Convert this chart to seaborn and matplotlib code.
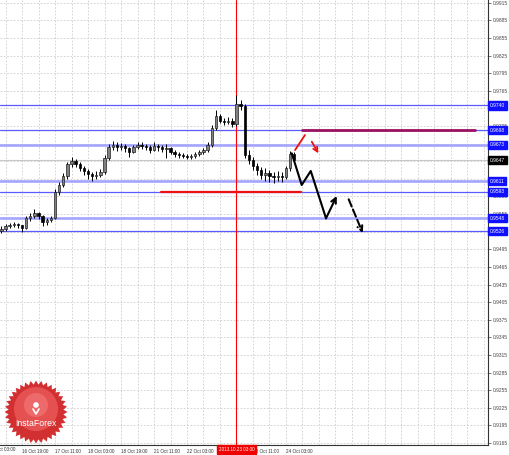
import numpy as np
import pandas as pd
import matplotlib
matplotlib.use("Agg")
import matplotlib.pyplot as plt
import seaborn as sns
from matplotlib.patches import Polygon, Circle

# barre a 2 ore, asse x = ore di contrattazione dal 16 Oct 03:00
bar_t = np.arange(6, 150, 2)
first_open = 0.9526
close = [0.9530, 0.9535, 0.9536, 0.9538, 0.9536, 0.9531, 0.9548, 0.9552, 0.9557, 0.9552,
         0.9541, 0.9545, 0.9548, 0.9593, 0.9605, 0.9620, 0.9640, 0.9645, 0.9640, 0.9633,
         0.9628, 0.9623, 0.9620, 0.9622, 0.9627, 0.9651, 0.9669, 0.9673, 0.9669, 0.9671,
         0.9668, 0.9661, 0.9669, 0.9673, 0.9671, 0.9669, 0.9664, 0.9671, 0.9669, 0.9666,
         0.9668, 0.9661, 0.9657, 0.9656, 0.9654, 0.9652, 0.9654, 0.9657, 0.9661, 0.9664,
         0.9673, 0.9702, 0.9722, 0.9714, 0.9712, 0.9714, 0.9708, 0.9743, 0.9739, 0.9656,
         0.9647, 0.9637, 0.9630, 0.9622, 0.9625, 0.9620, 0.9618, 0.9620, 0.9618, 0.9633,
         0.9657, 0.9647]
high = [0.9534, 0.9538, 0.9540, 0.9541, 0.9540, 0.9537, 0.9552, 0.9556, 0.9563, 0.9559,
        0.9554, 0.9549, 0.9552, 0.9597, 0.9610, 0.9625, 0.9644, 0.9652, 0.9648, 0.9643,
        0.9637, 0.9632, 0.9627, 0.9628, 0.9632, 0.9655, 0.9674, 0.9679, 0.9677, 0.9676,
        0.9675, 0.9670, 0.9673, 0.9678, 0.9677, 0.9675, 0.9672, 0.9678, 0.9675, 0.9673,
        0.9674, 0.9670, 0.9664, 0.9661, 0.9659, 0.9657, 0.9658, 0.9661, 0.9665, 0.9668,
        0.9677, 0.9707, 0.9733, 0.9726, 0.9719, 0.9720, 0.9718, 0.9758, 0.9750, 0.9742,
        0.9664, 0.9652, 0.9642, 0.9636, 0.9633, 0.9630, 0.9626, 0.9628, 0.9626, 0.9637,
        0.9662, 0.9660]
low = [0.9522, 0.9527, 0.9531, 0.9533, 0.9532, 0.9524, 0.9529, 0.9544, 0.9549, 0.9547,
       0.9535, 0.9537, 0.9541, 0.9546, 0.9588, 0.9601, 0.9615, 0.9636, 0.9635, 0.9628,
       0.9622, 0.9615, 0.9612, 0.9614, 0.9618, 0.9624, 0.9647, 0.9665, 0.9663, 0.9664,
       0.9660, 0.9652, 0.9659, 0.9666, 0.9666, 0.9664, 0.9659, 0.9662, 0.9663, 0.9660,
       0.9651, 0.9657, 0.9653, 0.9651, 0.9650, 0.9648, 0.9649, 0.9651, 0.9654, 0.9658,
       0.9661, 0.9670, 0.9698, 0.9710, 0.9706, 0.9708, 0.9703, 0.9705, 0.9733, 0.9650,
       0.9640, 0.9630, 0.9622, 0.9614, 0.9612, 0.9610, 0.9608, 0.9612, 0.9610, 0.9614,
       0.9629, 0.9643]

# livelli orizzontali (blu) e prezzo attuale
levels = [0.9740, 0.9698, 0.9673, 0.9611, 0.9593, 0.9548, 0.9526]
level_thick = [False, False, True, True, False, True, False]
current_price = 0.9647

# etichette asse tempo
time_ticks = [0, 16, 32, 48, 64, 80, 96, 112, 128, 144]
time_labels = ["16 Oct 03:00", "16 Oct 19:00", "17 Oct 11:00", "18 Oct 03:00", "18 Oct 19:00",
               "21 Oct 11:00", "22 Oct 03:00", "22 Oct 19:00", "23 Oct 11:00", "24 Oct 03:00"]
vline_t = 120
vline_label = "2013.10.23 03:00"
price_ticks = [round(0.9165 + 0.0030 * i, 4) for i in range(26)]

# disegni di previsione
black_path_t = [146.8, 151.6, 156.0, 163.4, 168.6]
black_path_p = [0.96585, 0.96045, 0.96284, 0.95478, 0.95858]
black_dash_t = [174.4, 181.2]
black_dash_p = [0.95801, 0.95228]
red_up_t = [148.4, 153.2]
red_up_p = [0.96641, 0.96897]
red_down_t = [156.5, 159.7]
red_down_p = [0.96783, 0.96585]
red_support_t = [83.4, 151.3]
red_support_p = [0.9593, 0.9593]
resist_t = [151.8, 235.6]
resist_p = [0.9698, 0.9698]

df = pd.DataFrame({"t": bar_t, "close": close, "high": high, "low": low})
df["open"] = df["close"].shift(1).fillna(first_open)

sns.set_style("white")
plt.rcParams["font.family"] = ["Liberation Sans", "DejaVu Sans"]
fig = plt.figure(figsize=(5.1, 4.55), dpi=100)
ax = fig.add_axes([0, 10 / 455, 488 / 510, 445 / 455])
ax.set_xlim(5.333, 241.94)
ax.set_ylim(0.91616, 0.99197)

FSX = 3.3
FSY = 3.5

# griglia tratteggiata
for t in range(8, 248, 8):
    ax.axvline(t, color="#cccccc", lw=0.6, ls=(0, (2, 2)), zorder=0)
for p in price_ticks:
    ax.axhline(p, color="#cccccc", lw=0.6, ls=(0, (2, 2)), zorder=0)

# livelli
for lv, thick in zip(levels, level_thick):
    if thick:
        ax.axhline(lv, color="#a4a4ff", lw=1.9, zorder=1)
    else:
        ax.axhline(lv, color="#5a5aff", lw=0.9, zorder=1)
ax.axhline(current_price, color="#c8c8c8", lw=0.8, zorder=1)
ax.axvline(vline_t, color="red", lw=0.8, zorder=1)

# candele
ax.vlines(df["t"], df["low"], df["high"], color="black", lw=0.7, zorder=3)
bull = df["close"] >= df["open"]
body_low = df[["open", "close"]].min(axis=1)
body_h = (df["close"] - df["open"]).abs().clip(lower=0.00006)
ax.bar(df["t"][bull], body_h[bull], bottom=body_low[bull], width=1.1,
       color="#808080", edgecolor="#202020", lw=0.5, zorder=4)
ax.bar(df["t"][~bull], body_h[~bull], bottom=body_low[~bull], width=1.1,
       color="black", edgecolor="black", lw=0.5, zorder=4)

# disegni
sns.lineplot(x=red_support_t, y=red_support_p, sort=False, color="#ee1111", lw=1.6, ax=ax, zorder=5)
sns.lineplot(x=resist_t, y=resist_p, sort=False, color="#9c1060", lw=2.0, ax=ax, zorder=5)
sns.lineplot(x=black_path_t[:-1], y=black_path_p[:-1], sort=False, color="black", lw=1.5, ax=ax, zorder=6)
ax.annotate("", xy=(black_path_t[-1], black_path_p[-1]), xytext=(black_path_t[-2], black_path_p[-2]),
            arrowprops=dict(arrowstyle="->", color="black", lw=1.5, mutation_scale=9, shrinkA=0, shrinkB=0), zorder=6)
ax.annotate("", xy=(black_dash_t[1], black_dash_p[1]), xytext=(black_dash_t[0], black_dash_p[0]),
            arrowprops=dict(arrowstyle="->", color="black", lw=1.5, ls="--", mutation_scale=9, shrinkA=0, shrinkB=0), zorder=6)
sns.lineplot(x=red_up_t, y=red_up_p, sort=False, color="#ee1111", lw=1.3, ax=ax, zorder=6)
ax.annotate("", xy=(red_down_t[1], red_down_p[1]), xytext=(red_down_t[0], red_down_p[0]),
            arrowprops=dict(arrowstyle="->", color="#ee1111", lw=1.3, mutation_scale=8, shrinkA=0, shrinkB=0), zorder=6)

# assi
for s in ["left", "top"]:
    ax.spines[s].set_visible(False)
for s in ["right", "bottom"]:
    ax.spines[s].set_color("#333333")
    ax.spines[s].set_linewidth(0.8)
ax.yaxis.tick_right()
ax.set_yticks(price_ticks)
# le etichette coperte dai riquadri dei livelli restano vuote
boxed = levels + [current_price]
ylabels = ["" if min(abs(p - b) for b in boxed) < 0.0006 else f"{p:.4f}" for p in price_ticks]
ax.set_yticklabels(ylabels)
ax.tick_params(axis="y", length=2, width=0.5, pad=1.5, labelsize=FSY, labelcolor="#444444", colors="#444444")
ax.set_xticks(time_ticks[1:])
ax.set_xticklabels(time_labels[1:], ha="left")
ax.tick_params(axis="x", length=2, width=0.5, pad=1, labelsize=FSX, labelcolor="#333333")
ax.text(time_ticks[0], -0.0045, time_labels[0], transform=ax.get_xaxis_transform(),
        ha="left", va="top", fontsize=FSX, color="#333333", clip_on=False)
ax.set_xlabel("")
ax.set_ylabel("")

# etichette livelli
ytr = ax.get_yaxis_transform()
for lv in levels:
    ax.text(1.004, lv, f"{lv:.4f}", transform=ytr, ha="left", va="center", fontsize=FSY,
            color="white", clip_on=False, zorder=10,
            bbox=dict(boxstyle="square,pad=0.35", fc="#1010ff", ec="#1010ff"))
ax.text(1.004, current_price, f"{current_price:.4f}", transform=ytr, ha="left", va="center",
        fontsize=FSY, color="white", clip_on=False, zorder=10,
        bbox=dict(boxstyle="square,pad=0.35", fc="black", ec="black"))
ax.text(vline_t, -0.0045, vline_label, transform=ax.get_xaxis_transform(), ha="center", va="top",
        fontsize=FSX, color="white", clip_on=False, zorder=10,
        bbox=dict(boxstyle="square,pad=0.35", fc="#ee0000", ec="#ee0000"))

# logo InstaForex
lax = fig.add_axes([0, 0, 1, 1], zorder=20)
lax.set_xlim(0, 510)
lax.set_ylim(455, 0)
lax.axis("off")
ang = np.linspace(0, 2 * np.pi, 72, endpoint=False)
rad = np.where(np.arange(72) % 2 == 0, 31.5, 27.5)
star = np.column_stack([36 + rad * np.cos(ang), 412 + rad * np.sin(ang)])
lax.add_patch(Polygon(star, closed=True, fc="#d23030", ec="none"))
lax.add_patch(Circle((36, 409), 22, fc="#e55050", ec="none"))
lax.add_patch(Circle((36, 405), 12, fc="#ee6a6a", ec="none"))
lax.add_patch(Circle((36, 405), 2.8, fc="white", ec="none"))
lax.plot([33, 36, 39], [409, 414, 409], color="white", lw=1.2)
lax.text(36, 423, "InstaForex", color="white", fontsize=6.3, ha="center", va="center")

fig.savefig("out.png", dpi=100)
